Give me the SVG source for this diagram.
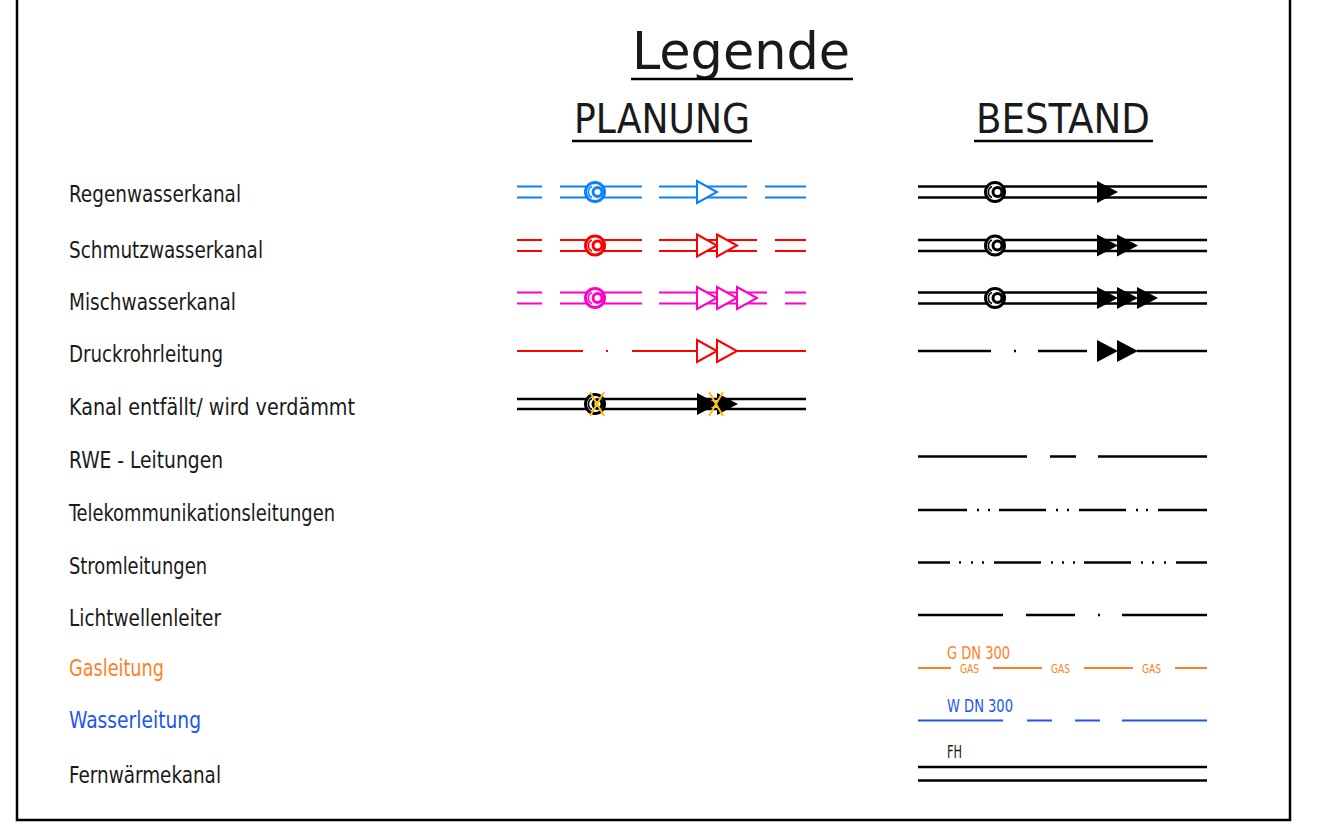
<svg xmlns="http://www.w3.org/2000/svg" xmlns:xlink="http://www.w3.org/1999/xlink" width="1318" height="839" viewBox="0 0 1318 839">
<style>
  text { font-family: "DejaVu Sans Condensed", "Liberation Sans Narrow", "Liberation Sans", sans-serif; fill: #1a1a1a; }
  .lbl { font-size: 23px; }
  .hdr { font-size: 40px; }
  .ttl { font-size: 52px; }
  .sm { font-size: 18px; }
  .tiny { font-size: 12px; }
  .ln { fill: none; stroke-width: 2.2; }
  .lnb { fill: none; stroke: #000; stroke-width: 2.5; }
  .blue { color: #0a80ff; stroke: #0a80ff; }
  .red { color: #ff0000; stroke: #ff0000; }
  .mag { color: #ff00c8; stroke: #ff00c8; }
  .blk { color: #000; stroke: #000; }
  .org { stroke: #ff7f27; }
  .wbl { stroke: #2255ee; }
  .xy { stroke: #ffc000; stroke-width: 2; fill: none; }
  .ul { stroke: #000; stroke-width: 2.5; }
</style>
<defs>
  <g id="mh">
    <circle r="9.5" fill="#fff" stroke="currentColor" stroke-width="3"/>
    <circle cx="2.5" r="4.5" fill="#fff" stroke="currentColor" stroke-width="3"/>
    <path d="M -3 -5.5 A 6 6 0 0 0 -3 5.5" fill="none" stroke="currentColor" stroke-width="1.6"/>
  </g>
  <polygon id="tro" points="0,-11 20,0 0,11" fill="#fff" stroke="currentColor" stroke-width="2"/>
  <polygon id="trf" points="0,-11 21,0 0,11" fill="currentColor" stroke="none"/>
</defs>

<g id="frame">
  <path d="M 17 0 V 820 H 1290 V 0" fill="none" stroke="#000" stroke-width="2.5"/>
</g>

<g id="title">
  <text class="ttl" x="632" y="69" textLength="218" lengthAdjust="spacingAndGlyphs">Legende</text>
  <line class="ul" x1="631" y1="79" x2="853" y2="79"/>
  <text class="hdr" x="574" y="133" textLength="176" lengthAdjust="spacingAndGlyphs">PLANUNG</text>
  <line class="ul" x1="572" y1="141" x2="752" y2="141"/>
  <text class="hdr" x="976" y="133" textLength="174" lengthAdjust="spacingAndGlyphs">BESTAND</text>
  <line class="ul" x1="974" y1="141" x2="1153" y2="141"/>
</g>

<g id="labels">
  <text class="lbl" x="69" y="202" textLength="172" lengthAdjust="spacingAndGlyphs">Regenwasserkanal</text>
  <text class="lbl" x="69" y="258" textLength="194" lengthAdjust="spacingAndGlyphs">Schmutzwasserkanal</text>
  <text class="lbl" x="69" y="310" textLength="167" lengthAdjust="spacingAndGlyphs">Mischwasserkanal</text>
  <text class="lbl" x="69" y="362" textLength="154" lengthAdjust="spacingAndGlyphs">Druckrohrleitung</text>
  <text class="lbl" x="69" y="415" textLength="286" lengthAdjust="spacingAndGlyphs">Kanal entfällt/ wird verdämmt</text>
  <text class="lbl" x="69" y="468" textLength="154" lengthAdjust="spacingAndGlyphs">RWE - Leitungen</text>
  <text class="lbl" x="69" y="521" textLength="266" lengthAdjust="spacingAndGlyphs">Telekommunikationsleitungen</text>
  <text class="lbl" x="69" y="574" textLength="138" lengthAdjust="spacingAndGlyphs">Stromleitungen</text>
  <text class="lbl" x="69" y="626" textLength="152" lengthAdjust="spacingAndGlyphs">Lichtwellenleiter</text>
  <text class="lbl" x="69" y="676" textLength="95" lengthAdjust="spacingAndGlyphs" style="fill:#ff7f27">Gasleitung</text>
  <text class="lbl" x="69" y="728" textLength="132" lengthAdjust="spacingAndGlyphs" style="fill:#2255ee">Wasserleitung</text>
  <text class="lbl" x="69" y="783" textLength="152" lengthAdjust="spacingAndGlyphs">Fernwärmekanal</text>
</g>

<g id="connectors">
  <g id="p-regen" class="blue">
    <path class="ln" d="M517 186.5H542M517 197.5H542M560 186.5H642M560 197.5H642M659 186.5H747M659 197.5H747M765 186.5H806M765 197.5H806"/>
    <use xlink:href="#mh" x="595" y="192"/>
    <use xlink:href="#tro" x="697" y="192"/>
  </g>
  <g id="p-schmutz" class="red">
    <path class="ln" d="M517 240H542M517 251H542M560 240H642M560 251H642M659 240H757M659 251H757M775 240H806M775 251H806"/>
    <use xlink:href="#mh" x="595" y="245.5"/>
    <use xlink:href="#tro" x="697" y="245.5"/>
    <use xlink:href="#tro" x="717" y="245.5"/>
  </g>
  <g id="p-misch" class="mag">
    <path class="ln" d="M517 292.5H542M517 303.5H542M560 292.5H642M560 303.5H642M659 292.5H767M659 303.5H767M785 292.5H806M785 303.5H806"/>
    <use xlink:href="#mh" x="595" y="298"/>
    <use xlink:href="#tro" x="697" y="298"/>
    <use xlink:href="#tro" x="717" y="298"/>
    <use xlink:href="#tro" x="737" y="298"/>
  </g>
  <g id="p-druck" class="red">
    <path class="ln" d="M517 351H583M606 351H608M632 351H697M737 351H806"/>
    <use xlink:href="#tro" x="697" y="351"/>
    <use xlink:href="#tro" x="717" y="351"/>
  </g>
  <g id="p-entf" class="blk">
    <path class="lnb" d="M517 399H806M517 409H806"/>
    <use xlink:href="#mh" x="595" y="404"/>
    <use xlink:href="#trf" x="697" y="404"/>
    <use xlink:href="#trf" x="717" y="404"/>
    <path class="xy" d="M590 392L604 416M604 392L590 416M709 392L723 416M723 392L709 416"/>
  </g>

  <g id="b-regen" class="blk">
    <path class="lnb" d="M918 186.5H1207M918 197.5H1207"/>
    <use xlink:href="#mh" x="995" y="192"/>
    <use xlink:href="#trf" x="1097" y="192"/>
  </g>
  <g id="b-schmutz" class="blk">
    <path class="lnb" d="M918 240H1207M918 251H1207"/>
    <use xlink:href="#mh" x="995" y="245.5"/>
    <use xlink:href="#trf" x="1097" y="245.5"/>
    <use xlink:href="#trf" x="1117" y="245.5"/>
  </g>
  <g id="b-misch" class="blk">
    <path class="lnb" d="M918 292.5H1207M918 303.5H1207"/>
    <use xlink:href="#mh" x="995" y="298"/>
    <use xlink:href="#trf" x="1097" y="298"/>
    <use xlink:href="#trf" x="1117" y="298"/>
    <use xlink:href="#trf" x="1137" y="298"/>
  </g>
  <g id="b-druck" class="blk">
    <path class="lnb" d="M918 351H991M1014 351H1016M1038 351H1087M1137 351H1207"/>
    <use xlink:href="#trf" x="1097" y="351"/>
    <use xlink:href="#trf" x="1117" y="351"/>
  </g>
  <g id="b-rwe">
    <path class="lnb" d="M918 456.5H1027M1050 456.5H1076M1098 456.5H1207"/>
  </g>
  <g id="b-tele">
    <path class="lnb" d="M918 510H967M977 510H979M988 510H990M999 510H1046M1056 510H1058M1067 510H1069M1079 510H1126M1136 510H1138M1146 510H1148M1158 510H1207"/>
  </g>
  <g id="b-strom">
    <path class="lnb" d="M918 562.5H950M959 562.5H961M971 562.5H973M982 562.5H984M994 562.5H1041M1051 562.5H1053M1062 562.5H1064M1073 562.5H1075M1084 562.5H1131M1141 562.5H1143M1152 562.5H1154M1164 562.5H1166M1176 562.5H1207"/>
  </g>
  <g id="b-lwl">
    <path class="lnb" d="M918 615H1003M1026 615H1075M1098 615H1100M1122 615H1207"/>
  </g>
  <g id="b-gas">
    <path class="ln org" d="M918 668H951M993 668H1042M1084 668H1133M1175 668H1207"/>
    <text class="sm" x="947" y="659" textLength="63" lengthAdjust="spacingAndGlyphs" style="fill:#ff7f27">G DN 300</text>
    <text class="tiny" x="960" y="672.5" textLength="19" lengthAdjust="spacingAndGlyphs" style="fill:#ff7f27">GAS</text>
    <text class="tiny" x="1051" y="672.5" textLength="19" lengthAdjust="spacingAndGlyphs" style="fill:#ff7f27">GAS</text>
    <text class="tiny" x="1142" y="672.5" textLength="19" lengthAdjust="spacingAndGlyphs" style="fill:#ff7f27">GAS</text>
  </g>
  <g id="b-wasser">
    <path class="ln wbl" d="M918 720.5H1003M1027 720.5H1052M1075 720.5H1100M1122 720.5H1207"/>
    <text class="sm" x="947" y="712" textLength="66" lengthAdjust="spacingAndGlyphs" style="fill:#2255ee">W DN 300</text>
  </g>
  <g id="b-fern">
    <path class="lnb" d="M918 767H1207M918 780.5H1207"/>
    <text class="sm" x="947" y="758" textLength="15" lengthAdjust="spacingAndGlyphs">FH</text>
  </g>
</g>
</svg>
